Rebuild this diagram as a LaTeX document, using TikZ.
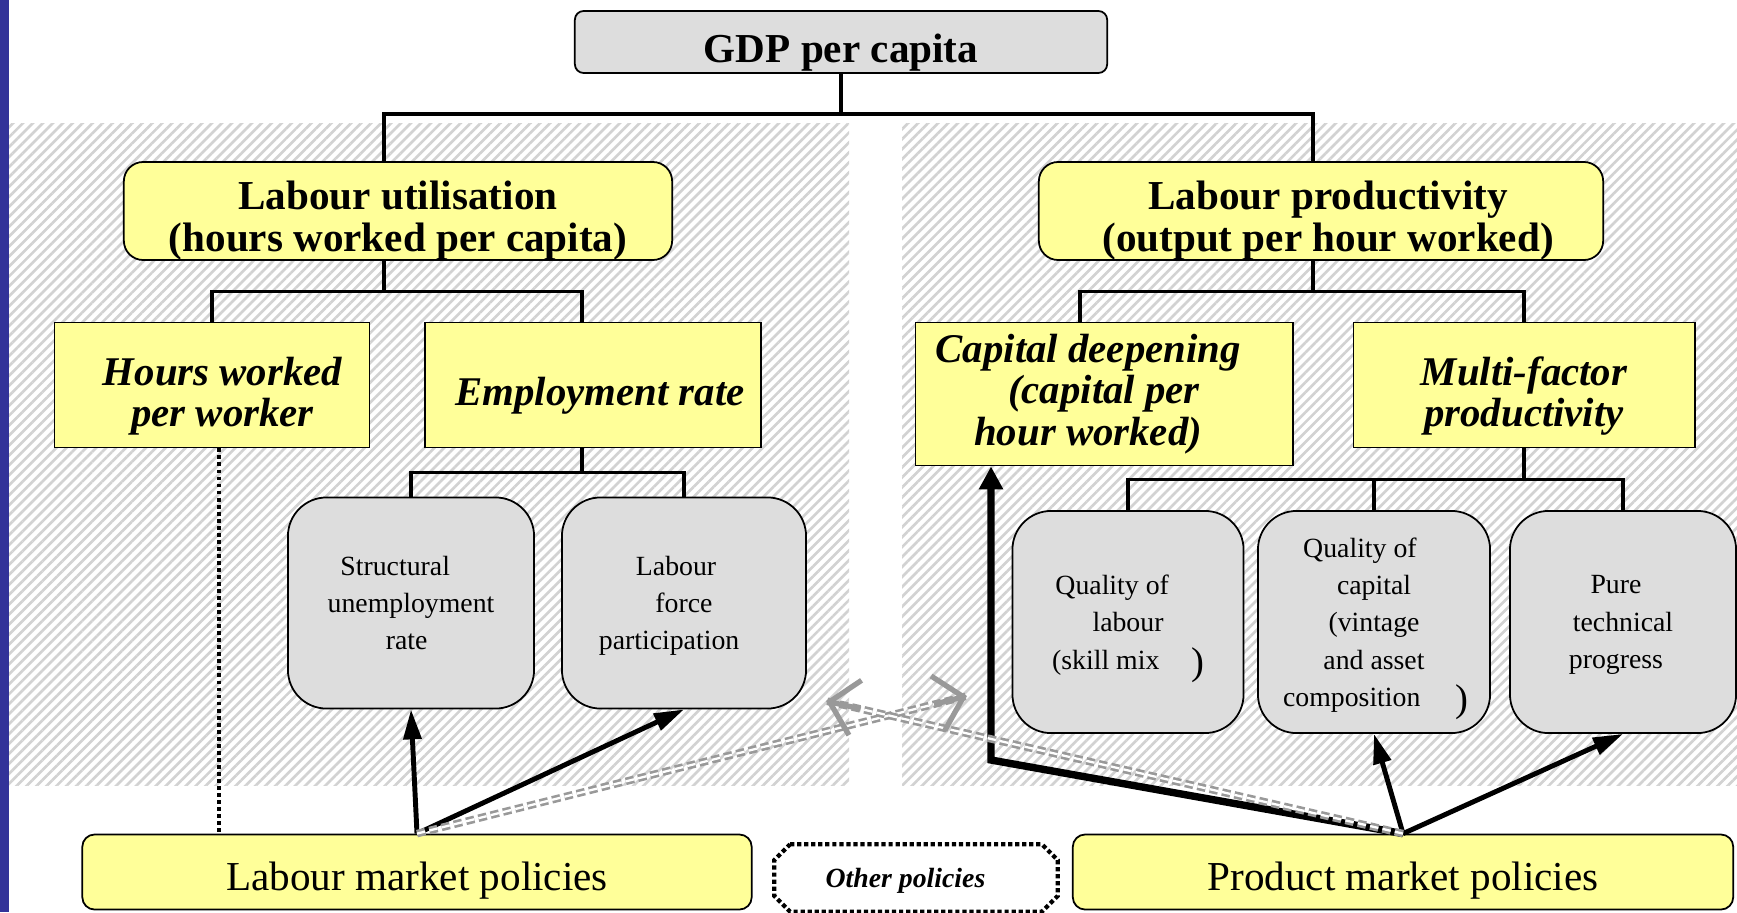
\documentclass[tikz,border=0pt]{standalone}
\usepackage{fontspec}
\setmainfont{Liberation Serif}
\usetikzlibrary{calc,patterns.meta,arrows.meta}

\definecolor{boxyellow}{HTML}{FFFF99}
\definecolor{boxgray}{HTML}{DDDDDD}
\definecolor{sidebar}{HTML}{333399}
\definecolor{hatchgray}{HTML}{D2D2D2}
\definecolor{spillgray}{HTML}{999999}

\newcommand{\bigparen}{\raisebox{-1.5pt}{\fontsize{11}{11}\selectfont )}}

\tikzset{
	topbox/.style={draw=black, line width=0.5pt, rounded corners=5.5pt, fill=boxyellow, align=center, inner sep=0pt,
		text depth=0pt, execute at begin node={\rule{0pt}{11.4pt}}, font=\fontsize{11.7}{12}\selectfont\bfseries},
	subbox/.style={draw=black, line width=0.5pt, fill=boxyellow, align=center, inner sep=0pt,
		text depth=0pt, execute at begin node={\rule{0pt}{11.8pt}}, font=\fontsize{11.6}{11.8}\selectfont\bfseries\itshape},
	factorbox/.style={draw=black, line width=0.5pt, rounded corners=11pt, fill=boxgray, align=center, inner sep=0pt,
		text depth=0pt, font=\fontsize{7.9}{10.6}\selectfont},
	policybox/.style={draw=black, line width=0.5pt, rounded corners=3.5pt, fill=boxyellow, inner sep=0pt,
		text depth=0pt, execute at begin node={\rule{0pt}{10.3pt}}, font=\fontsize{11.7}{12}\selectfont},
	otherbox/.style={fill=white, inner sep=0pt, text depth=0pt, font=\fontsize{7.9}{9}\selectfont\bfseries\itshape},
	otherline/.style={line width=1.2pt, dash pattern=on 1.2pt off 0.8pt},
	hatch/.style={pattern={Lines[angle=45,distance=2pt,line width=0.75pt]}, pattern color=hatchgray},
	tree/.style={line width=0.9pt},
	hoursline/.style={line width=1.3pt, dash pattern=on 1.1pt off 0.9pt},
	lever/.style={line width=1.4pt, -{Triangle[length=8.5pt,width=5pt]}},
	deeplever/.style={line width=2.1pt, -{Triangle[length=6.5pt,width=6.5pt]}},
	spill/.style={draw=spillgray, line width=0.75pt, double=white, double distance=0.65pt, dash pattern=on 2.4pt off 1.2pt},
	spilltip/.style={draw=spillgray, line width=1.5pt, -{Straight Barb[length=7.5pt,width=16pt]}},
}

\begin{document}
\begin{tikzpicture}[x=0.01cm, y=-0.01cm]
			%%%%% START %%%%%
			\useasboundingbox (0,0) rectangle (1737,912);
			\fill[white] (0,0) rectangle (1737,912);
			\fill[sidebar] (0,0) rectangle (9,912);
			\fill[hatch] (9,123) rectangle (849,785);
			\fill[hatch] (902,123) rectangle (1737,785);
			
			\node[topbox, execute at begin node={\rule{0pt}{9.9pt}}, rounded corners=2.5pt, fill=boxgray, minimum width=5.32cm, minimum height=0.62cm] (gdp) at (841,42) {GDP per capita};
			\node[topbox, text height=23.2pt, minimum width=5.48cm, minimum height=0.98cm] (lu) at (398,211) {Labour utilisation\\(hours worked per capita)};
			\node[topbox, text height=23.2pt, minimum width=5.64cm, minimum height=0.98cm] (lp) at (1321,211) {\hspace*{4pt}Labour productivity\\\hspace*{4pt}(output per hour worked)};
			
			\node[subbox, text height=23.6pt, minimum width=3.15cm, minimum height=1.25cm] (hw) at (212,385) {\hspace*{6pt}Hours worked\\\hspace*{6pt}per worker};
			\node[subbox, minimum width=3.36cm, minimum height=1.25cm] (er) at (593,385) {\hspace*{4pt}Employment rate};
			\node[subbox, text depth=2.5pt, execute at begin node={}, minimum width=3.77cm, minimum height=1.43cm] (cd) at (1104,394) {Capital deepening\hspace*{9pt}\\(capital per\hspace*{9pt}\\hour worked)\hspace*{9pt}};
			\node[subbox, text height=23.6pt, minimum width=3.41cm, minimum height=1.25cm] (mf) at (1524,385) {Multi-factor\\productivity};
			
			\node[factorbox, minimum width=2.46cm, minimum height=2.11cm] (su) at (411,603) {Structural\hspace*{9pt}\\unemployment\hspace*{11.5pt}\\rate\hspace*{2.5pt}};
			\node[factorbox, minimum width=2.44cm, minimum height=2.11cm] (lf) at (684,603) {Labour\hspace*{4.5pt}\\force\hspace*{3.5pt}\\participation\hspace*{8.5pt}};
			\node[factorbox, minimum width=2.31cm, minimum height=2.22cm] (ql) at (1128,622) {Quality of\hspace*{9pt}\\labour\hspace*{4pt}\\(skill mix\hspace*{9pt}\bigparen};
			\node[factorbox, minimum width=2.32cm, minimum height=2.22cm] (qc) at (1374,622) {Quality of\hspace*{8pt}\\capital\hspace*{8pt}\\(vintage\hspace*{8pt}\\and asset\hspace*{7pt}\\composition\hspace*{10pt}\bigparen\hspace*{-1pt}};
			\node[factorbox, minimum width=2.26cm, minimum height=2.22cm] (pt) at (1623,622) {Pure\hspace*{4pt}\\technical\hspace*{4pt}\\progress\hspace*{4pt}};
			
			\node[policybox, minimum width=6.69cm, minimum height=0.75cm] (lmp) at (417,872) {Labour market policies};
			\node[otherbox, minimum width=2.82cm, minimum height=0.66cm] (op) at (916,878) {Other policies\hspace*{6pt}};
			\draw[otherline] ([xshift=4.5pt]op.north west) -- ([xshift=-4.5pt]op.north east) -- ([yshift=-4.5pt]op.north east)
				-- ([yshift=4.5pt]op.south east) -- ([xshift=-4.5pt]op.south east) -- ([xshift=4.5pt]op.south west)
				-- ([yshift=4.5pt]op.south west) -- ([yshift=-4.5pt]op.north west) -- cycle;
			\node[policybox, minimum width=6.60cm, minimum height=0.75cm] (pmp) at (1403,872) {Product market policies};
			
			%%%%% TREE %%%%%
			\coordinate (gdpbus) at (841,114);
			\draw[tree] (gdp.south) -- (gdpbus);
			\draw[tree] ($(lu.north)+(-14,0)$) |- (gdpbus) -| ($(lp.north)+(-8,0)$);
			
			\coordinate (lubus) at ($(lu.south)+(-14,31)$);
			\draw[tree] ($(lu.south)+(-14,0)$) -- (lubus);
			\draw[tree] (hw.north) |- (lubus) -| ($(er.north)+(-11,0)$);
			
			\coordinate (erbus) at ($(er.south)+(-11,24)$);
			\draw[tree] ($(er.south)+(-11,0)$) -- (erbus);
			\draw[tree] (su.north) |- (erbus) -| (lf.north);
			
			\coordinate (lpbus) at ($(lp.south)+(-8,31)$);
			\draw[tree] ($(lp.south)+(-8,0)$) -- (lpbus);
			\draw[tree] ($(cd.north)+(-24,0)$) |- (lpbus) -| (mf.north);
			
			\coordinate (mfbus) at ($(mf.south)+(0,31)$);
			\draw[tree] (mf.south) -- (mfbus);
			\draw[tree] (ql.north) |- (mfbus) -| (pt.north);
			\draw[tree] (qc.north) -- (qc.north |- mfbus);
			
			\draw[hoursline] ($(hw.south)+(7,0)$) -- ($(hw.south |- lmp.north)+(7,0)$);
			
			%%%%% POLICIES %%%%%
			\draw[lever] (lmp.north) -- (su.south);
			\draw[lever] (lmp.north) -- (lf.south);
			\draw[lever] (pmp.north) -- (qc.south);
			\draw[lever] (pmp.north) -- (pt.south);
			\coordinate (capbend) at (991,760);
			\draw[deeplever] (pmp.north) -- (capbend) -- (capbend |- cd.south);
			
			\coordinate (spillL) at (826,701);
			\coordinate (spillR) at (967,696);
			\draw[spill] (lmp.north) -- (spillR);
			\draw[spill] (pmp.north) -- (spillL);
			\draw[spilltip] ($(lmp.north)!0.94!(spillR)$) -- (spillR);
			\draw[spilltip] ($(pmp.north)!0.94!(spillL)$) -- (spillL);
			%%%%% END %%%%%
\end{tikzpicture}
\end{document}
